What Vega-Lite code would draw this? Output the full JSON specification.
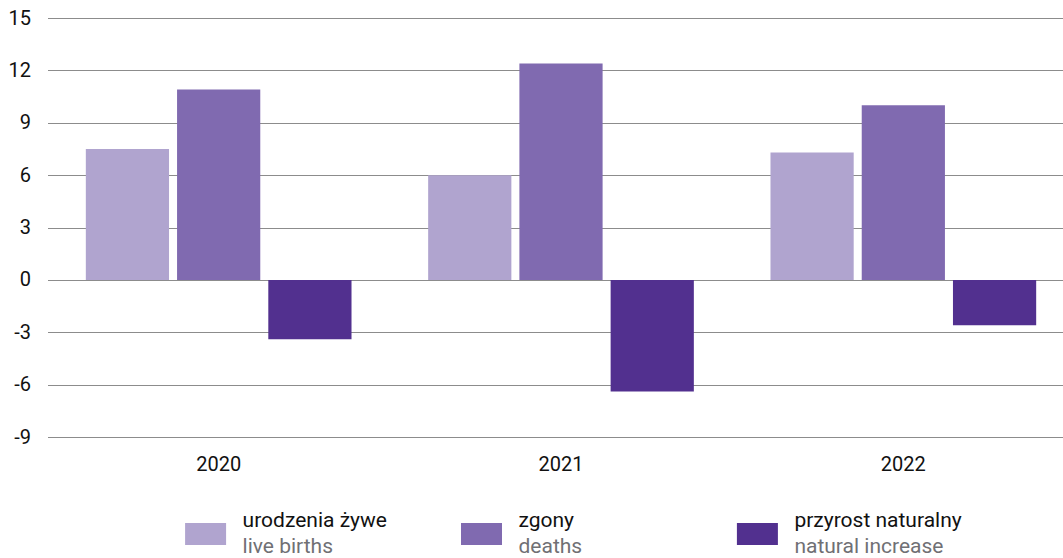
{
  "$schema": "https://vega.github.io/schema/vega-lite/v6.json",
  "background": "white",
  "padding": {"left": 7.5, "top": 8, "right": 0, "bottom": 0},
  "autosize": {"type": "pad"},
  "config": {"view": {"stroke": null}, "font": "Roboto, sans-serif", "concat": {"spacing": 35}},
  "datasets": {
    "rows": [
      {"year": "2020", "series": "b", "pl": "urodzenia żywe", "en": "live births", "value": 7.5},
      {"year": "2020", "series": "d", "pl": "zgony", "en": "deaths", "value": 10.9},
      {"year": "2020", "series": "n", "pl": "przyrost naturalny", "en": "natural increase", "value": -3.4},
      {"year": "2021", "series": "b", "pl": "urodzenia żywe", "en": "live births", "value": 6.0},
      {"year": "2021", "series": "d", "pl": "zgony", "en": "deaths", "value": 12.4},
      {"year": "2021", "series": "n", "pl": "przyrost naturalny", "en": "natural increase", "value": -6.4},
      {"year": "2022", "series": "b", "pl": "urodzenia żywe", "en": "live births", "value": 7.3},
      {"year": "2022", "series": "d", "pl": "zgony", "en": "deaths", "value": 10.0},
      {"year": "2022", "series": "n", "pl": "przyrost naturalny", "en": "natural increase", "value": -2.6}
    ]
  },
  "vconcat": [
    {
      "width": 1016,
      "height": 419,
      "data": {"name": "rows"},
      "mark": {"type": "bar"},
      "encoding": {
        "x": {
          "field": "year", "type": "nominal",
          "scale": {"range": [0, 1027], "paddingInner": 0, "paddingOuter": 0},
          "axis": {"title": null, "labelAngle": 0, "ticks": false, "domain": false, "labelFontSize": 20, "labelPadding": 17, "labelColor": "#111111"}
        },
        "xOffset": {
          "field": "series", "type": "nominal", "sort": ["b", "d", "n"],
          "scale": {"paddingInner": 0.088, "paddingOuter": 0.42}
        },
        "y": {
          "field": "value", "type": "quantitative",
          "scale": {"domain": [-9, 15], "nice": false},
          "axis": {"title": null, "values": [-9, -6, -3, 0, 3, 6, 9, 12, 15], "labelExpr": "toString(datum.value)", "ticks": false, "domain": false, "grid": true, "gridColor": "#8c8c8c", "gridWidth": 1.2, "labelFontSize": 20, "labelPadding": 17, "labelColor": "#111111"}
        },
        "color": {
          "field": "series", "type": "nominal",
          "scale": {"domain": ["b", "d", "n"], "range": ["#B0A4CF", "#806AB0", "#52308F"]},
          "legend": null
        }
      }
    },
    {
      "width": 868,
      "height": 50,
      "data": {"name": "rows"},
      "transform": [{"filter": "datum.year == '2020'"}],
      "encoding": {
        "x": {
          "field": "series", "type": "nominal", "sort": ["b", "d", "n"],
          "scale": {"type": "point", "padding": 0.573},
          "axis": null
        }
      },
      "layer": [
        {
          "mark": {"type": "point", "shape": "M-1,-0.54H1V0.54H-1Z", "size": 1681, "filled": true, "opacity": 1},
          "encoding": {"color": {"field": "series", "type": "nominal", "legend": null}}
        },
        {
          "mark": {"type": "text", "align": "left", "baseline": "middle", "dx": 37, "dy": -13, "fontSize": 21, "color": "#111111"},
          "encoding": {"text": {"field": "pl"}}
        },
        {
          "mark": {"type": "text", "align": "left", "baseline": "middle", "dx": 37, "dy": 13, "fontSize": 21, "color": "#707074"},
          "encoding": {"text": {"field": "en"}}
        }
      ]
    }
  ]
}
